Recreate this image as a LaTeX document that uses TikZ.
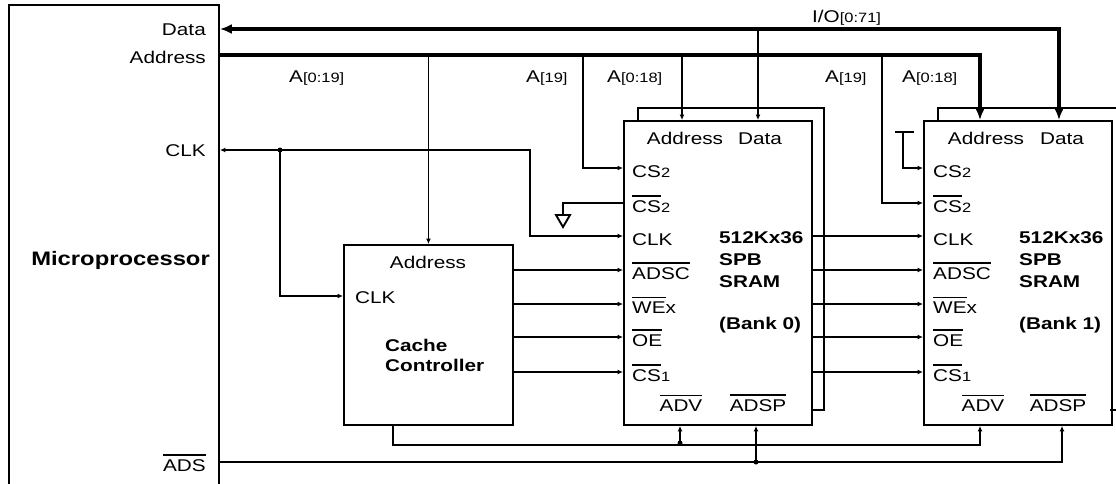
\documentclass[tikz,border=0pt]{standalone}
\usepackage{fontspec}
\setmainfont{Liberation Sans}[FakeStretch=1.22]
\usetikzlibrary{arrows.meta,calc}

\newcommand{\ovbar}[1]{\vbox{\hrule height 1.6pt\kern 3.2pt\hbox{#1}}}
\newcommand{\idx}[1]{{\fontsize{13.5}{14}\selectfont #1}}

\tikzset{
  sig/.style={line width=1.9pt},
  bus/.style={line width=4.5pt, >={Latex[length=12pt,width=10pt]}},
  lbl/.style={inner sep=0pt, font=\fontsize{17}{20}\selectfont, text height=12pt, text depth=0pt},
  blbl/.style={lbl, font=\fontsize{17}{20}\selectfont\bfseries},
  chip/.style={draw, sig, minimum width=188, minimum height=304, anchor=north west},
  jn/.style={circle, fill, inner sep=0pt, minimum size=5pt},
}

\begin{document}
\begin{tikzpicture}[x=1pt, y=-1pt, >={Latex[length=5.5pt,width=5pt]}]

    \useasboundingbox (0,0) rectangle (1116,483);

    % Microprocessor
    \node[draw, sig, minimum width=210, minimum height=500, anchor=north west] (mpu) at (8,4) {};
    \node[lbl, anchor=east] (mpdatal) at (206,29) {Data};
    \node[lbl, anchor=east] (mpaddrl) at (206,57) {Address};
    \node[lbl, anchor=east] (mpclkl) at (206,150) {CLK};
    \node[blbl, anchor=east, font=\fontsize{19.5}{20}\selectfont\bfseries] (mpname) at (210,259) {Microprocessor};
    \node[lbl, anchor=east] (mpadsl) at (206,465) {\ovbar{ADS}};

    \coordinate (mpdata) at (mpu.east |- 0,29);
    \coordinate (mpaddr) at (mpu.east |- 0,55);
    \coordinate (mpclk) at (mpu.east |- 0,150);
    \coordinate (mpads) at (mpu.east |- 0,462);

    % Cache controller
    \node[draw, sig, minimum width=169, minimum height=180, anchor=north west] (cache) at (343,244) {};
    \node[lbl] (ccaddr) at (428,262) {Address};
    \node[lbl, anchor=west] (ccclk) at (355,297) {CLK};
    \node[blbl, anchor=west] (ccname) at (385,345) {Cache};
    \node[blbl, anchor=west] (ccname2) at (385,365) {Controller};

    % Bank 0 (second chip behind it)
    \draw[sig] ([xshift=15pt]623,120) |- (824,108) |- (811,410);
    \node[chip] (bank0) at (623,120) {};
    \coordinate (b0cs2) at (bank0.west |- 0,168);
    \coordinate (b0ncs2) at (bank0.west |- 0,203);
    \coordinate (b0clk) at (bank0.west |- 0,236);
    \coordinate (b0adsc) at (bank0.west |- 0,270);
    \coordinate (b0we) at (bank0.west |- 0,304);
    \coordinate (b0oe) at (bank0.west |- 0,337);
    \coordinate (b0ncs1) at (bank0.west |- 0,372);
    \coordinate (b0addr) at (bank0.north -| 682,0);
    \coordinate (b0data) at (bank0.north -| 758,0);
    \coordinate (b0adv) at (bank0.south -| 680,0);
    \coordinate (b0adsp) at (bank0.south -| 756,0);

    \node[lbl] (b0addrl) at (685,138) {Address};
    \node[lbl] (b0datal) at (760,138) {Data};
    \node[lbl, anchor=west] (b0cs2l) at ([xshift=9pt,yshift=-3pt]b0cs2) {CS\idx{2}};
    \node[lbl, anchor=west] (b0ncs2l) at ([xshift=9pt,yshift=-3pt]b0ncs2) {\ovbar{CS}\idx{2}};
    \node[lbl, anchor=west] (b0clkl) at ([xshift=9pt,yshift=-3pt]b0clk) {CLK};
    \node[lbl, anchor=west] (b0adscl) at ([xshift=9pt,yshift=-3pt]b0adsc) {\ovbar{ADSC}};
    \node[lbl, anchor=west] (b0wel) at ([xshift=9pt,yshift=-3pt]b0we) {\ovbar{WE}x};
    \node[lbl, anchor=west] (b0oel) at ([xshift=9pt,yshift=-3pt]b0oe) {\ovbar{OE}};
    \node[lbl, anchor=west] (b0ncs1l) at ([xshift=9pt,yshift=-3pt]b0ncs1) {\ovbar{CS}\idx{1}};
    \node[lbl] (b0advl) at (681,405) {\ovbar{ADV}};
    \node[lbl] (b0adspl) at (758,405) {\ovbar{ADSP}};
    \node[blbl, anchor=west] (b0size) at (719,237) {512Kx36};
    \node[blbl, anchor=west] (b0type) at ([yshift=-22pt]b0size.west) {SPB};
    \node[blbl, anchor=west] (b0kind) at ([yshift=-22pt]b0type.west) {SRAM};
    \node[blbl, anchor=west] (b0bank) at ([yshift=-42pt]b0kind.west) {(Bank 0)};

    % Bank 1 (second chip behind it)
    \draw[sig] (938,120) |- (1117,108);
    \draw[sig] (1110,410) -- (1117,410);
    \node[chip] (bank1) at (923,120) {};
    \coordinate (b1cs2) at (bank1.west |- 0,168);
    \coordinate (b1ncs2) at (bank1.west |- 0,203);
    \coordinate (b1clk) at (bank1.west |- 0,236);
    \coordinate (b1adsc) at (bank1.west |- 0,270);
    \coordinate (b1we) at (bank1.west |- 0,304);
    \coordinate (b1oe) at (bank1.west |- 0,337);
    \coordinate (b1ncs1) at (bank1.west |- 0,372);
    \coordinate (b1addr) at (bank1.north -| 980,0);
    \coordinate (b1data) at (bank1.north -| 1059,0);
    \coordinate (b1adv) at (bank1.south -| 980,0);
    \coordinate (b1adsp) at (bank1.south -| 1062,0);

    \node[lbl] (b1addrl) at (986,138) {Address};
    \node[lbl] (b1datal) at (1062,138) {Data};
    \node[lbl, anchor=west] (b1cs2l) at ([xshift=10pt,yshift=-3pt]b1cs2) {CS\idx{2}};
    \node[lbl, anchor=west] (b1ncs2l) at ([xshift=10pt,yshift=-3pt]b1ncs2) {\ovbar{CS}\idx{2}};
    \node[lbl, anchor=west] (b1clkl) at ([xshift=10pt,yshift=-3pt]b1clk) {CLK};
    \node[lbl, anchor=west] (b1adscl) at ([xshift=10pt,yshift=-3pt]b1adsc) {\ovbar{ADSC}};
    \node[lbl, anchor=west] (b1wel) at ([xshift=10pt,yshift=-3pt]b1we) {\ovbar{WE}x};
    \node[lbl, anchor=west] (b1oel) at ([xshift=10pt,yshift=-3pt]b1oe) {\ovbar{OE}};
    \node[lbl, anchor=west] (b1ncs1l) at ([xshift=10pt,yshift=-3pt]b1ncs1) {\ovbar{CS}\idx{1}};
    \node[lbl] (b1advl) at (983,405) {\ovbar{ADV}};
    \node[lbl] (b1adspl) at (1058,405) {\ovbar{ADSP}};
    \node[blbl, anchor=west] (b1size) at (1019,237) {512Kx36};
    \node[blbl, anchor=west] (b1type) at ([yshift=-22pt]b1size.west) {SPB};
    \node[blbl, anchor=west] (b1kind) at ([yshift=-22pt]b1type.west) {SRAM};
    \node[blbl, anchor=west] (b1bank) at ([yshift=-42pt]b1kind.west) {(Bank 1)};

    % Bus labels
    \node[lbl, anchor=west] (busio) at (812,16) {I/O\idx{[0:71]}};
    \node[lbl, anchor=west] (busa) at (289,76) {A\idx{[0:19]}};
    \node[lbl, anchor=west] (b0a19) at (526,76) {A\idx{[19]}};
    \node[lbl, anchor=west] (b0a018) at (607,76) {A\idx{[0:18]}};
    \node[lbl, anchor=west] (b1a19) at (825,76) {A\idx{[19]}};
    \node[lbl, anchor=west] (b1a018) at (902,76) {A\idx{[0:18]}};

    % Data and address buses
    \draw[bus,<->] (mpdata) -| (b1data);
    \draw[bus,->] (mpaddr) -| (b1addr);
    \draw[sig,->] (mpdata -| b0data) -- (b0data);
    \draw[sig,->] (mpaddr -| b0addr) -- (b0addr);
    \draw[sig,->] (cache.north |- mpaddr) -- (cache.north);
    \draw[sig,->] (mpaddr -| 583,0) |- (b0cs2);
    \draw[sig,->] (mpaddr -| 882,0) |- (b1ncs2);

    % Clock
    \draw[sig,<->] (mpclk) -| (530,236) -- (b0clk);
    \node[jn] (clkjn) at (280,150) {};
    \draw[sig,->] (clkjn.center) |- (cache.west |- 0,296);
    \draw[sig,->] (bank0.east |- b1clk) -- (b1clk);

    % Control lines from the cache controller
    \draw[sig,->] (cache.east |- b0adsc) -- (b0adsc);
    \draw[sig,->] (cache.east |- b0we) -- (b0we);
    \draw[sig,->] (cache.east |- b0oe) -- (b0oe);
    \draw[sig,->] (cache.east |- b0ncs1) -- (b0ncs1);
    \draw[sig,->] (bank0.east |- b1adsc) -- (b1adsc);
    \draw[sig,->] (bank0.east |- b1we) -- (b1we);
    \draw[sig,->] (bank0.east |- b1oe) -- (b1oe);
    \draw[sig,->] (bank0.east |- b1ncs1) -- (b1ncs1);

    % Tied chip selects
    \coordinate (gnd) at (563,215);
    \draw[sig] (b0ncs2) -| (gnd);
    \draw[sig] ([xshift=-7pt]gnd) -- ([xshift=7pt]gnd) -- ([yshift=-12pt]gnd) -- cycle;
    \coordinate (vcc) at (903,132);
    \draw[sig] ([xshift=-8pt]vcc) -- ([xshift=11pt]vcc);
    \draw[sig,->] (vcc) |- (b1cs2);

    % ADV and ADS lines
    \coordinate (ccadv) at ($(cache.south west)+(50,0)$);
    \draw[sig,->] (ccadv) -- ++(0,19) -| (b1adv);
    \node[jn] (advjn) at (b0adv |- 0,443) {};
    \draw[sig,->] (advjn.center) -- (b0adv);
    \draw[sig,->] (mpads) -| (b1adsp);
    \node[jn] (adsjn) at (b0adsp |- mpads) {};
    \draw[sig,->] (adsjn.center) -- (b0adsp);

\end{tikzpicture}
\end{document}
